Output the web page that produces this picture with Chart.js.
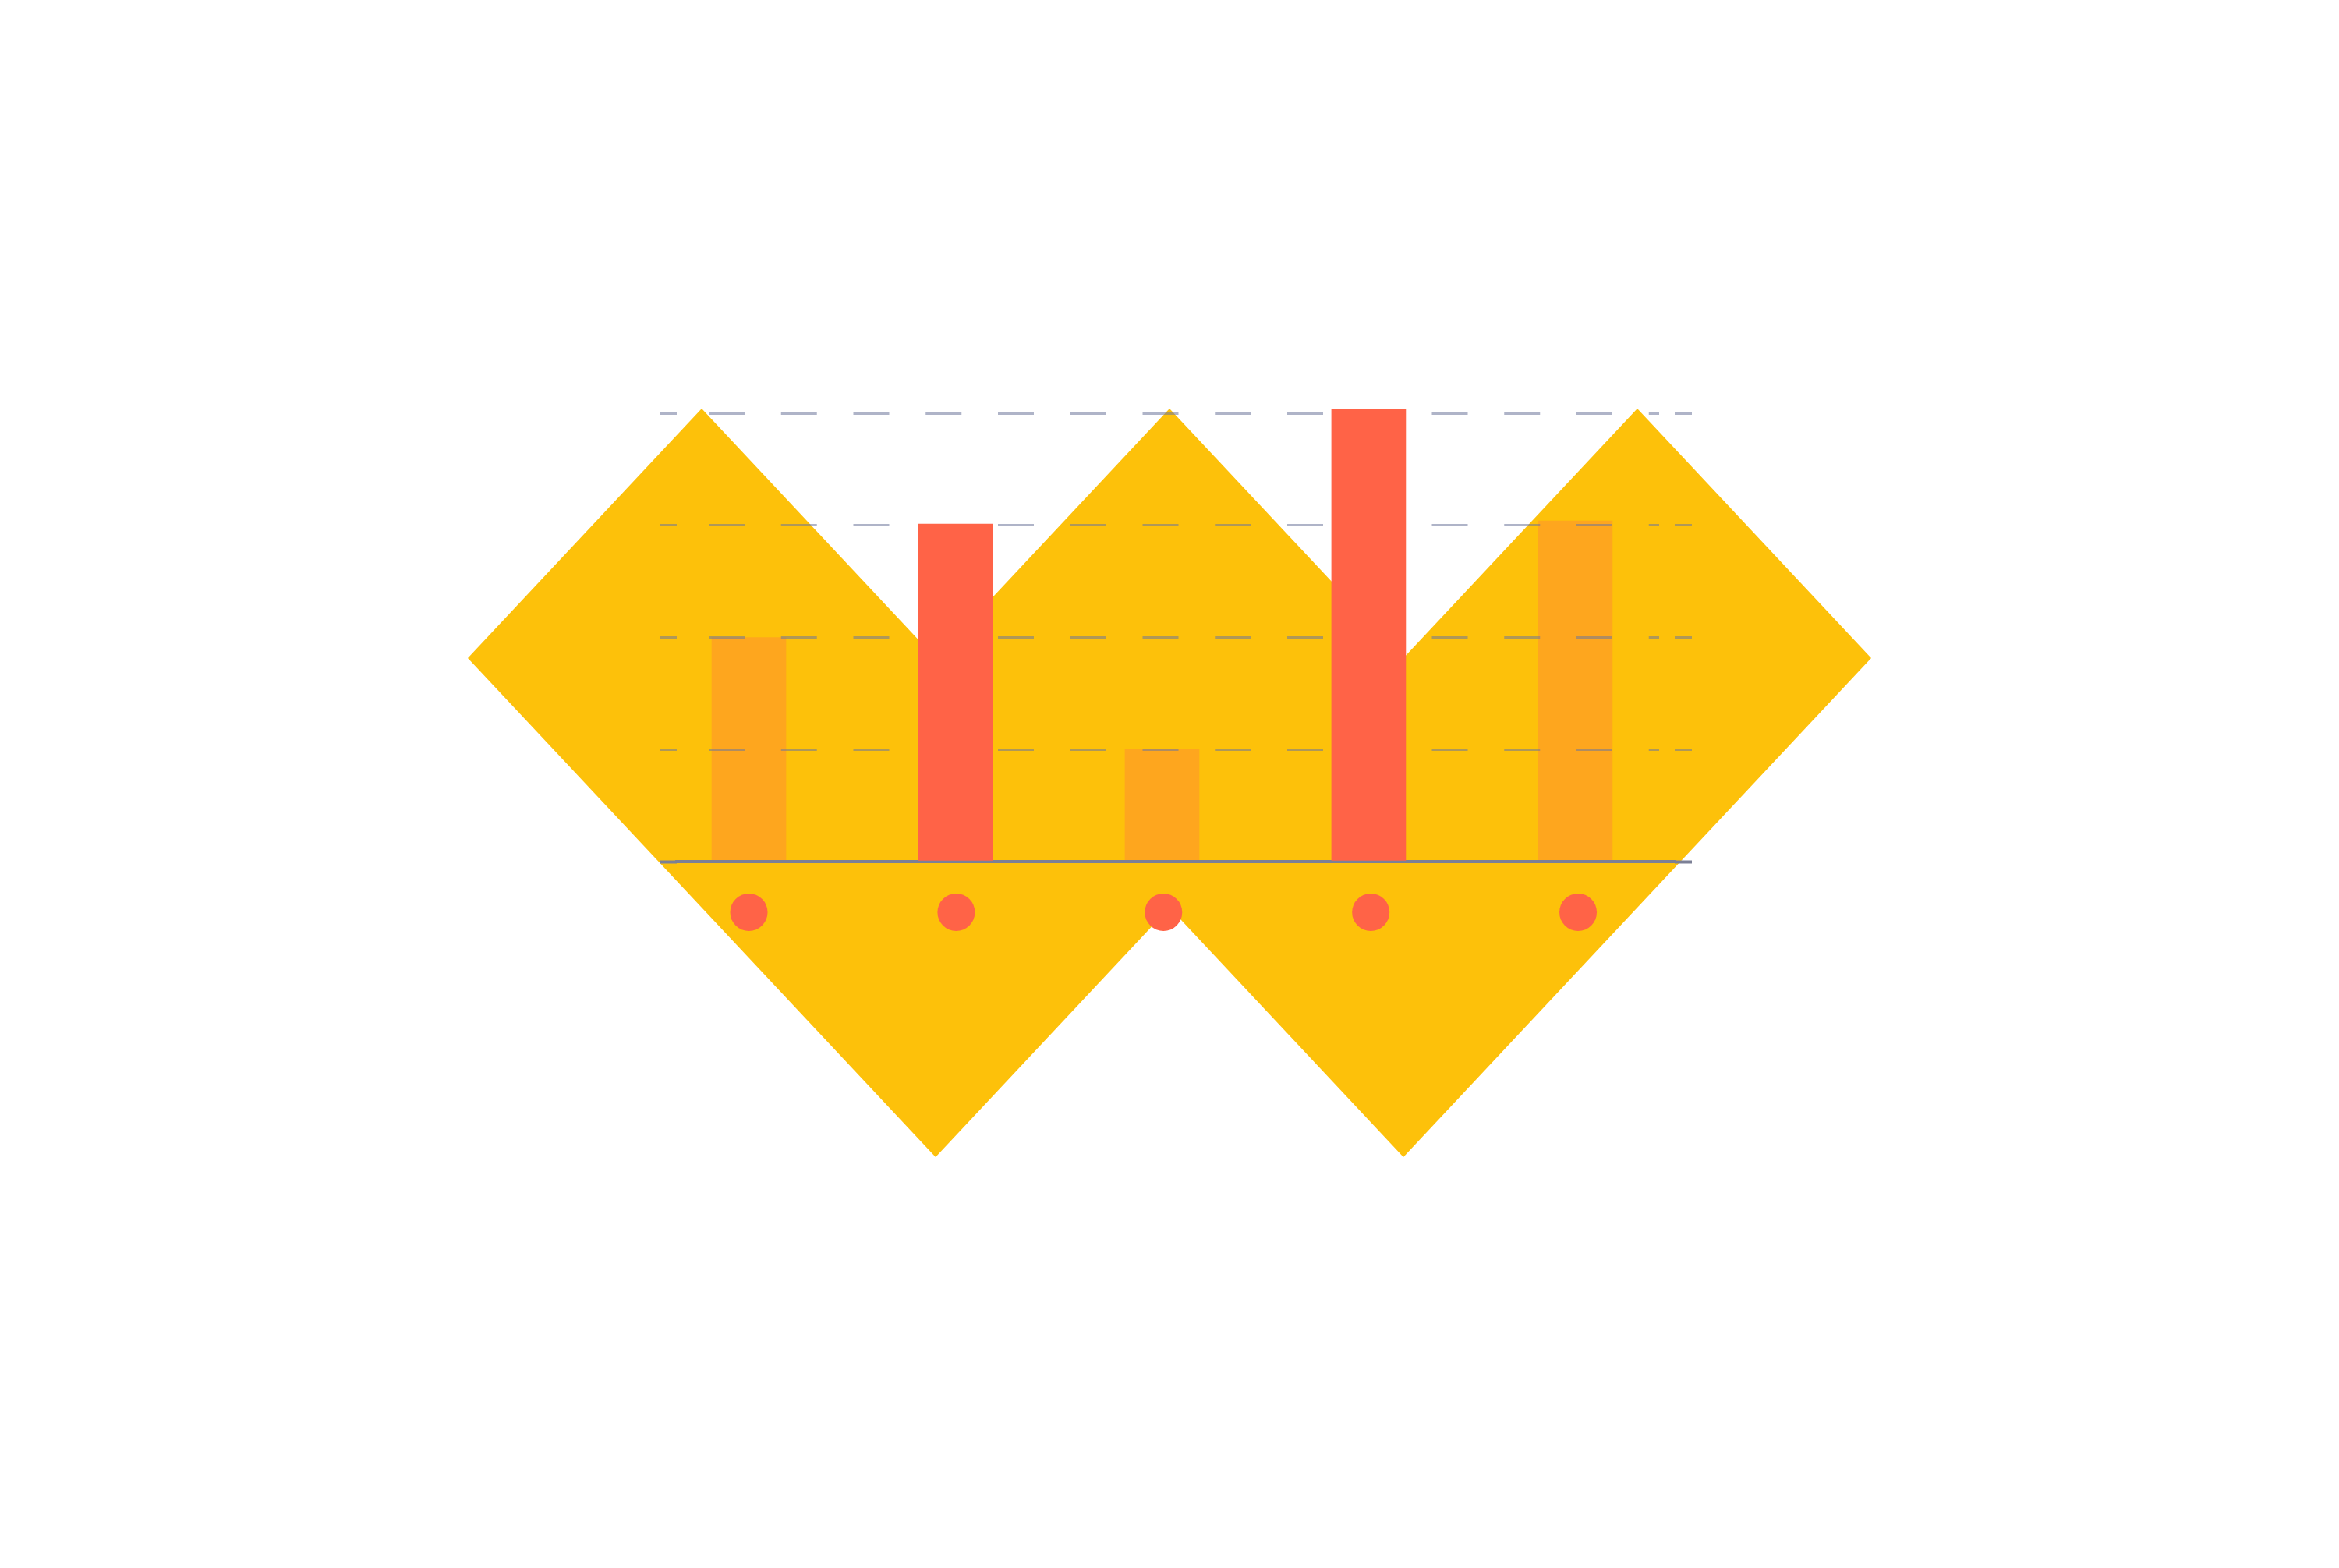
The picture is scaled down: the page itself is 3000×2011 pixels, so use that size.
<!DOCTYPE html>
<html>
<head>
<meta charset="utf-8">
<script src="https://cdn.jsdelivr.net/npm/chart.js@4/dist/chart.umd.min.js"></script>
<style>
  html, body { margin: 0; padding: 0; background: #ffffff; }
  #wrap { position: relative; width: 3000px; height: 2011px; }
  #wrap canvas { position: absolute; left: 0; top: 0; }
</style>
</head>
<body>
<div id="wrap">
  <canvas id="under" width="3000" height="2011"></canvas>
  <canvas id="over" width="3000" height="2011"></canvas>
  <canvas id="dots" width="3000" height="2011"></canvas>
</div>
<script>
// ---- data ----
const categories = ['1', '2', '3', '4', '5'];
const seriesOrange = [50, null, 25, null, 76];
const seriesRed = [null, 75.3, null, 101, null];
const markerValues = [-11.3, -11.3, -11.3, -11.3, -11.3];
const yTicks = [0, 25, 50, 75, 100];

// ---- styles ----
const YELLOW = '#FDC10A';
const ORANGE = '#FEA61E';
const RED = '#FF6347';
const GRID = 'rgba(110,118,155,0.55)';
const BASE = '#7c8096';
const NONE = 'rgba(0,0,0,0)';

function points(values) {
  return categories.map((c, i) => ({ x: i, y: values[i] })).filter(p => p.y !== null);
}

const decoration = {
  id: 'decoration',
  beforeDraw(chart) {
    const { ctx, width, height } = chart;
    const u = width / 10, v = 320 / 2011 * height;
    const cx = width / 2, y0 = 524 / 2011 * height;
    const shape = [[-3,1],[-2,0],[-1,1],[0,0],[1,1],[2,0],[3,1],[1,3],[0,2],[-1,3]];
    ctx.save();
    ctx.fillStyle = YELLOW;
    ctx.beginPath();
    shape.forEach(([a, b], k) => {
      const x = cx + a * u, y = y0 + b * v;
      if (k === 0) ctx.moveTo(x, y); else ctx.lineTo(x, y);
    });
    ctx.closePath();
    ctx.fill();
    ctx.restore();
  }
};

function buildOptions(showGrid) {
  const isZero = ctx => ctx.tick && ctx.tick.value === 0;
  const gridColor = ctx => (!showGrid || isZero(ctx)) ? NONE : GRID;
  const tickColor = ctx => !showGrid ? NONE : (isZero(ctx) ? BASE : GRID);
  const tickWidth = ctx => isZero(ctx) ? 4 : 3;
  const setTicks = s => { s.ticks = yTicks.map(v => ({ value: v })); };
  return {
    responsive: false,
    animation: false,
    devicePixelRatio: 1,
    layout: { padding: { left: 847, right: 830, top: 530, bottom: 791 } },
    plugins: { legend: { display: false }, tooltip: { enabled: false } },
    events: [],
    scales: {
      x: {
        type: 'linear', position: { y: 0 }, min: -0.349, max: 4.406, offset: false,
        ticks: { display: false },
        grid: { display: false, offset: false, lineWidth: 42 },
        border: { display: true, color: showGrid ? BASE : NONE, width: 4 },
        afterFit: s => { s.height = 0; }
      },
      x2: { type: 'linear', display: false, min: -0.348, max: 4.391, offset: false, grid: { offset: false } },
      y: {
        type: 'linear', position: 'left', min: -20, max: yTicks[yTicks.length - 1],
        afterBuildTicks: setTicks,
        ticks: { display: false },
        grid: { color: gridColor, lineWidth: 3, drawTicks: true, tickLength: 21, tickColor, tickWidth },
        border: { display: false, dash: [46, 46.75], dashOffset: 51.75 },
        afterFit: s => { s.width = 21; }
      },
      y2: {
        type: 'linear', position: 'right', min: -20, max: yTicks[yTicks.length - 1],
        afterBuildTicks: setTicks,
        ticks: { display: false },
        grid: { drawOnChartArea: false, color: gridColor, lineWidth: 3, drawTicks: true, tickLength: 42, tickColor, tickWidth },
        border: { display: true, color: NONE, width: 40 },
        afterFit: s => { s.width = 42; }
      }
    }
  };
}

// layer 1: decoration + orange bars (below the grid)
new Chart(document.getElementById('under'), {
  type: 'bar',
  data: {
    datasets: [{
      label: 'orange',
      data: points(seriesOrange),
      backgroundColor: ORANGE,
      borderWidth: 0,
      barThickness: 95,
      clip: false,
      xAxisID: 'x', yAxisID: 'y'
    }]
  },
  options: buildOptions(false),
  plugins: [decoration]
});

// layer 2: grid, baseline and red bars
new Chart(document.getElementById('over'), {
  type: 'bar',
  data: {
    datasets: [{
      label: 'red',
      data: points(seriesRed),
      backgroundColor: RED,
      borderWidth: 0,
      barThickness: 95,
      clip: false,
      xAxisID: 'x', yAxisID: 'y'
    }]
  },
  options: buildOptions(true)
});

// layer 3: category markers
new Chart(document.getElementById('dots'), {
  type: 'scatter',
  data: {
    datasets: [{
      label: 'markers',
      data: points(markerValues),
      backgroundColor: RED,
      pointBackgroundColor: RED,
      pointBorderWidth: 0,
      pointRadius: 24,
      showLine: false,
      clip: false,
      xAxisID: 'x2', yAxisID: 'y'
    }]
  },
  options: buildOptions(false)
});
</script>
</body>
</html>
